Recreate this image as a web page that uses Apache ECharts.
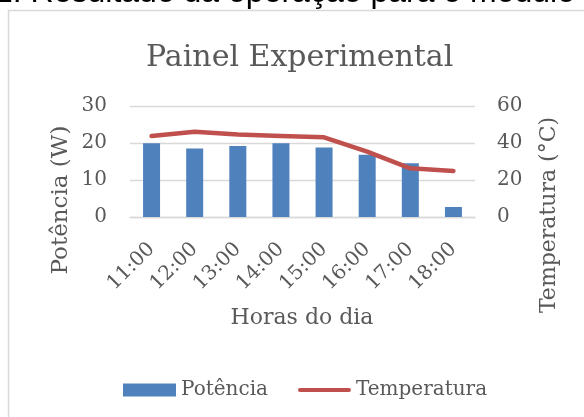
<!DOCTYPE html>
<html><head><meta charset="utf-8">
<script src="https://cdn.jsdelivr.net/npm/echarts@6/dist/echarts.min.js"></script>
<style>html,body{margin:0;padding:0;background:#fff}#c{width:584px;height:417px}</style>
</head><body><div id="c"></div>
<script>
const categories = ['11:00','12:00','13:00','14:00','15:00','16:00','17:00','18:00'];
const potencia = [19.9, 18.5, 19.2, 19.9, 18.8, 16.8, 14.5, 2.7];
const temperatura = [43.8, 46.1, 44.6, 43.8, 43.1, 35.3, 26.3, 24.9];
const leftTicks = {min: 0, max: 30, interval: 10};
const rightTicks = {min: 0, max: 60, interval: 20};

const F = '"DejaVu Serif", serif';
const G = '#595959';
const lineIcon = 'path://M0,0 M0,13 M2,4.5 L52,4.5 Q54,4.5 54,6.5 Q54,8.5 52,8.5 L2,8.5 Q0,8.5 0,6.5 Q0,4.5 2,4.5 Z';
const chart = echarts.init(document.getElementById('c'), null, {renderer: 'canvas'});
chart.setOption({
  animation: false,
  backgroundColor: '#fff',
  title: {text: 'Painel Experimental', left: 141, top: 38,
    textStyle: {fontFamily: F, fontSize: 30, fontWeight: 'normal', color: G}},
  grid: {left: 130, right: 109, top: 106, bottom: 200},
  legend: {left: 118, top: 375, itemGap: 30, itemWidth: 53, itemHeight: 13,
    textStyle: {fontFamily: F, fontSize: 20, color: G},
    data: [{name: 'Potência', icon: 'rect'}, {name: 'Temperatura', icon: lineIcon}]},
  xAxis: {type: 'category', data: categories,
    axisLine: {lineStyle: {color: '#d9d9d9', width: 1.3}}, axisTick: {show: false},
    axisLabel: {rotate: 45, margin: 29, fontFamily: F, fontSize: 20, color: G, interval: 0}},
  yAxis: [
    {type: 'value', min: leftTicks.min, max: leftTicks.max, interval: leftTicks.interval,
      axisLabel: {margin: 23, fontFamily: F, fontSize: 20, color: G},
      splitLine: {lineStyle: {color: '#d9d9d9', width: 1.3}}},
    {type: 'value', min: rightTicks.min, max: rightTicks.max, interval: rightTicks.interval,
      axisLabel: {margin: 22, fontFamily: F, fontSize: 20, color: G},
      splitLine: {show: false}}
  ],
  series: [
    {name: 'Potência', type: 'bar', data: potencia, barWidth: 17, yAxisIndex: 0,
      itemStyle: {color: '#4f81bd'}},
    {name: 'Temperatura', type: 'line', data: temperatura, yAxisIndex: 1,
      symbol: 'none', showSymbol: false,
      lineStyle: {color: '#c0504d', width: 4.5, cap: 'round', join: 'round'},
      itemStyle: {color: '#c0504d'}}
  ],
  graphic: [
    {type: 'rect', shape: {x: 8.5, y: 10.5, width: 700, height: 500}, style: {fill: 'none', stroke: '#d9d9d9', lineWidth: 1.5}, z: -1},
    {type: 'text', x: -5, y: 9, style: {text: '2. Resultado da operação para o módulo', font: '32px "Liberation Sans", sans-serif', fill: '#000', textVerticalAlign: 'bottom'}},
    {type: 'text', x: 61, y: 200, rotation: Math.PI / 2, style: {text: 'Potência (W)', font: '23px ' + F, fill: G, textAlign: 'center', textVerticalAlign: 'middle'}},
    {type: 'text', x: 549, y: 215, rotation: Math.PI / 2, style: {text: 'Temperatura (°C)', font: '22px ' + F, fill: G, textAlign: 'center', textVerticalAlign: 'middle'}},
    {type: 'text', x: 302, y: 318, style: {text: 'Horas do dia', font: '22px ' + F, fill: G, textAlign: 'center', textVerticalAlign: 'middle'}}
  ]
});
</script></body></html>
